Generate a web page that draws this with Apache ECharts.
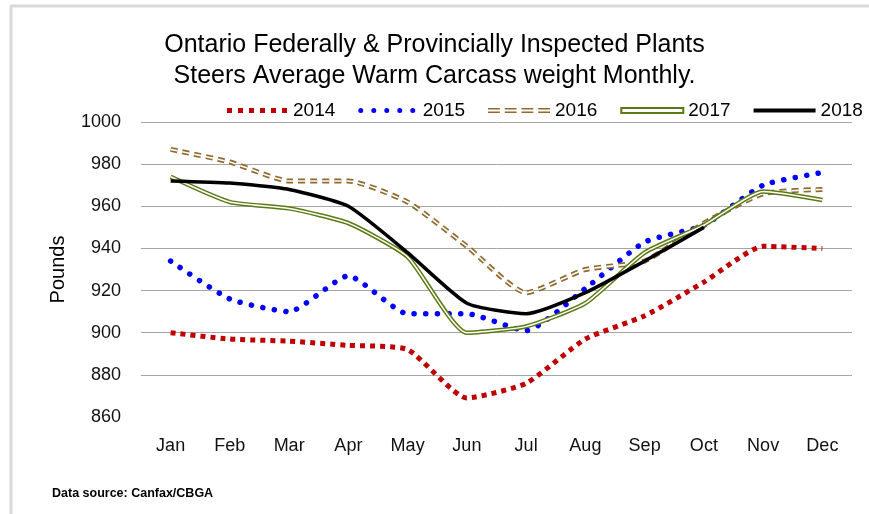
<!DOCTYPE html>
<html>
<head>
<meta charset="utf-8">
<script src="https://cdn.jsdelivr.net/npm/echarts@6/dist/echarts.min.js"></script>
<style>
html, body { margin: 0; padding: 0; background: #fff; }
#chart { width: 869px; height: 514px; }
</style>
</head>
<body>
<div id="chart"></div>
<script>
var months = ['Jan', 'Feb', 'Mar', 'Apr', 'May', 'Jun', 'Jul', 'Aug', 'Sep', 'Oct', 'Nov', 'Dec'];
var yTicks = [860, 880, 900, 920, 940, 960, 980, 1000];
var y2014 = [900, 897, 896, 894, 892, 869, 876, 897, 908, 924, 941, 940];
var y2015 = [934, 916, 910, 927, 909, 909, 901, 921, 943, 951, 970, 976];
var y2016 = [987, 981, 972, 972, 962, 941, 919, 930, 934, 952, 966, 968];
var y2017 = [974, 962, 959, 952, 936, 900, 903, 914, 938, 951, 967, 963];
var y2018 = [972, 971, 968, 960, 938, 914, 909, 919, 934, 950, null, null];

var chart = echarts.init(document.getElementById('chart'));

var RED = '#c00000', BLUE = '#0000ff', BROWN = '#8f6a30', OLIVE = '#5b7a14';
var FONT = 'Liberation Sans';
var SMOOTH = 0.18;

// legend icons
function squares() {
	var p = '';
	for (var i = 0; i < 6; i++) p += 'M' + (i * 11) + ',0h5v5h-5z';
	return 'path://' + p;
}
function dots() {
	var p = '';
	for (var i = 0; i < 5; i++) {
		var x = i * 13;
		p += 'M' + x + ',2.5a2.5,2.5 0 1,0 5,0a2.5,2.5 0 1,0 -5,0z';
	}
	return 'path://' + p;
}
function doubleDash() {
	var p = '';
	for (var i = 0; i < 4; i++) {
		var x = i * 17;
		p += 'M' + x + ',0h12v1.6h-12z M' + x + ',3.4h12v1.6h-12z';
	}
	return 'path://' + p;
}

var option = {
	animation: false,
	textStyle: { fontFamily: FONT },
	title: {
		text: 'Ontario Federally & Provincially Inspected Plants\nSteers Average Warm Carcass weight Monthly.',
		left: 'center',
		top: 30,
		padding: 0,
		textStyle: {
			fontFamily: FONT,
			fontSize: 25,
			fontWeight: 'normal',
			color: '#000',
			lineHeight: 31
		}
	},
	legend: {
		left: 222,
		top: 96,
		itemWidth: 62,
		itemHeight: 5,
		itemGap: 23,
		textStyle: { fontFamily: FONT, fontSize: 19, color: '#000' },
		data: [
			{ name: '2014', icon: squares(), itemStyle: { color: RED, borderWidth: 0 } },
			{ name: '2015', icon: dots(), itemStyle: { color: BLUE, borderWidth: 0 } },
			{ name: '2016', icon: doubleDash(), itemStyle: { color: BROWN, borderWidth: 0 } },
			{ name: '2017', icon: 'path://M0,0h62v5h-62z', itemStyle: { color: '#fff', borderColor: OLIVE, borderWidth: 2 } },
			{ name: '2018', icon: 'path://M0,0h62v4h-62z', itemStyle: { color: '#000', borderWidth: 0 } }
		]
	},
	grid: { left: 141, right: 17, top: 122, bottom: 97 },
	xAxis: {
		type: 'category',
		data: months,
		boundaryGap: true,
		axisLine: { show: false },
		axisTick: { show: false },
		axisLabel: { fontFamily: FONT, fontSize: 18, color: '#111', margin: 20 }
	},
	yAxis: {
		type: 'value',
		min: yTicks[0],
		max: yTicks[yTicks.length - 1],
		interval: 20,
		name: 'Pounds',
		nameLocation: 'middle',
		nameGap: 73,
		nameRotate: 90,
		nameTextStyle: { fontFamily: FONT, fontSize: 20, color: '#000' },
		axisLine: { show: false },
		axisTick: { show: false },
		axisLabel: {
			fontFamily: FONT, fontSize: 18, color: '#111', margin: 20,
			formatter: function (v) { return String(v); }
		},
		splitLine: { show: true, showMinLine: false, lineStyle: { color: '#a6a6a6', width: 1 } }
	},
	series: [
		{
			name: '2014', type: 'line', data: y2014, smooth: SMOOTH, showSymbol: false, z: 2,
			itemStyle: { color: RED },
			lineStyle: { color: RED, width: 5, type: [5, 5], cap: 'butt' }
		},
		{
			name: '2015', type: 'line', data: y2015, smooth: SMOOTH, showSymbol: false, z: 2,
			itemStyle: { color: BLUE },
			lineStyle: { color: BLUE, width: 5.5, type: [0.1, 11.5], cap: 'round' }
		},
		{
			name: '2016', type: 'line', data: y2016, smooth: SMOOTH, showSymbol: false, z: 2,
			itemStyle: { color: BROWN },
			lineStyle: { color: BROWN, width: 5, type: [7, 5], cap: 'butt' }
		},
		{
			name: '2016 inner', type: 'line', data: y2016, smooth: SMOOTH, showSymbol: false, z: 2,
			itemStyle: { color: '#fff' },
			lineStyle: { color: '#fff', width: 1.6, type: [7, 5], cap: 'butt' },
			tooltip: { show: false }
		},
		{
			name: '2017', type: 'line', data: y2017, smooth: SMOOTH, showSymbol: false, z: 2,
			itemStyle: { color: OLIVE },
			lineStyle: { color: OLIVE, width: 4.5 }
		},
		{
			name: '2017 inner', type: 'line', data: y2017, smooth: SMOOTH, showSymbol: false, z: 2,
			itemStyle: { color: '#fff' },
			lineStyle: { color: '#fff', width: 1.5 }
		},
		{
			name: '2018', type: 'line', data: y2018, smooth: SMOOTH, showSymbol: false, z: 3,
			itemStyle: { color: '#000' },
			lineStyle: { color: '#000', width: 3.5 }
		}
	],
	graphic: [
		{ type: 'line', shape: { x1: 10, y1: 6, x2: 869, y2: 6 }, style: { stroke: '#d9d9d9', lineWidth: 3 } },
		{ type: 'line', shape: { x1: 11, y1: 6, x2: 11, y2: 514 }, style: { stroke: '#d9d9d9', lineWidth: 3 } },
		{
			type: 'text', left: 52, top: 487,
			style: { text: 'Data source: Canfax/CBGA', fontFamily: FONT, fontSize: 12.5, fontWeight: 'bold', fill: '#000' }
		}
	]
};
chart.setOption(option);
window.onresize = chart.resize;
</script>
</body>
</html>
